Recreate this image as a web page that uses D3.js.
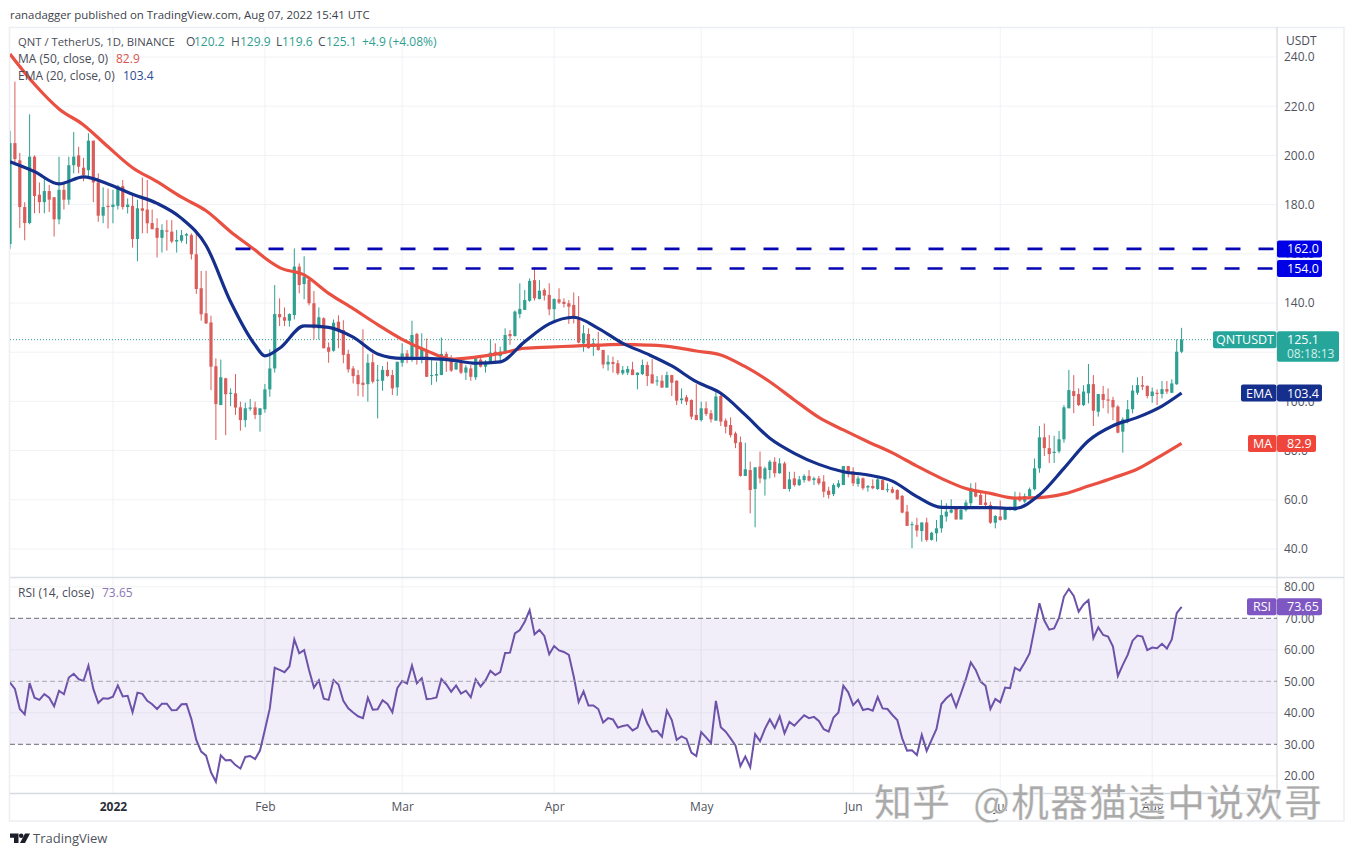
<!DOCTYPE html>
<html>
<head>
<meta charset="utf-8">
<script src="https://cdn.jsdelivr.net/npm/d3@7"></script>
<style>
  html, body { margin: 0; background: #fff; }
  svg { display: block; }
  text { font-family: "Open Sans", "Noto Sans", sans-serif; font-size: 12px; }
  .axis text { fill: #50535e; }
  .axis path, .axis line { display: none; }
  .grid line { stroke: #f0f2f6; stroke-width: 1; }
  .label { fill: #4a4d58; }
  .tag-text { fill: #fff; font-size: 12.5px; }
  .watermark { font-family: "Noto Sans CJK SC", sans-serif; font-size: 38px; font-weight: 500; fill: #aaaaaa; stroke: #fff; stroke-width: .5px; }
</style>
</head>
<body>
<svg id="chart" width="1354" height="856"></svg>
<script>
// Daily candles, Dec 11 2021 .. Aug 7 2022
const firstDay = new Date(Date.UTC(2021, 11, 11));
const opens = [
  164,205,198,179,172.5,199.5,184,181,185.5,183,
  174,186,182,196,200,195,194,206,189,175.5,
  179.5,179,179.5,187.5,179,179.5,166,178.5,178,172.5,
  170.5,166.5,169.5,169,165,165.3,167.4,167.6,159.8,146,
  135.8,132.1,114.3,98.5,109.4,103.3,103.3,97.6,92.4,97,
  97.6,94.5,96.8,104.9,113.4,135.5,134.2,132.8,135.1,154.8,
  147.7,149.5,139.9,129.7,133.8,122,120.6,132.4,129,119.3,
  113.4,110.7,107.6,107,115.9,108.6,108.4,112.8,110.7,105.7,
  115.7,119.5,118,127.4,117.5,120.9,110.4,110.5,110.7,119.3,
  117.5,113,115.7,111.7,113.4,109.8,117,114.1,116.1,120.2,
  118.4,119.5,127.4,126.6,135.5,137.2,140.9,149.3,141.6,145.3,
  143.3,137.5,141.5,140.5,139.9,139.2,134.2,123.6,127.4,122.2,
  123.3,120.9,115,116,115.5,111.4,111.7,113,110.7,111.1,
  114.8,111,108.2,108.4,105.6,110.7,108.4,100.5,101.7,100.6,
  94.5,92.4,97.2,95.2,92.2,102.2,92.2,90.4,87,83.4,
  69.7,72.1,64.4,73.5,68.3,72.1,75.5,70.8,74.8,64.4,
  68.7,66,68,69.7,68,68.7,67.4,63.7,62.3,65.3,
  66,73.7,71.5,66.4,68.7,65,65.6,64.4,68,64,
  64.3,64,61.6,55.2,49.8,49.8,47.3,50.8,43.7,46.4,
  48.4,53.2,54.8,56.5,52,55.9,58.6,64,62,58.9,
  57.9,50.7,53.2,52,55.9,55.6,61.3,59.3,61.5,64.3,
  72.8,85.4,81,79,79.7,84.6,97.2,104.2,103,98.5,
  103.3,107,95.8,103,100.8,100.6,97.9,87.7,92.7,96.8,
  103.5,106.6,106.3,102.2,103.5,103,105,103.5,107,120.2
];
const highs = [
  210,230,201,181,216.7,200,189,191,188,183,
  199.5,189,199.5,209.5,203.5,199,209,206,192.7,187,
  186.5,186,188,190,182.5,184,182,191,190,178,
  174.4,172,173.7,173.7,169.7,169.7,168.5,168.3,169.7,153,
  153.1,134.8,117.5,117,109.6,105.3,111.1,99.9,99.5,101,
  99.9,97.2,107.1,121.2,147.3,141.9,138.2,135.8,162.2,156.1,
  159,150.7,144.9,138.2,134.2,124,133.3,135,133,121,
  114.4,112.8,129.3,119.2,119.5,114.8,114.4,116.1,112.8,116.1,
  123.6,120.9,132.8,127.9,127.7,125.6,116.8,116.1,126,120.2,
  118.8,116.5,116.8,114.8,114.8,118.5,117.9,116.8,125.2,123.6,
  122.2,129.7,129,137,148,145.3,150,154.5,149.3,146,
  148,141.9,146,141.9,141.2,144.3,142.8,131,129.7,125.6,
  128.3,121,118.8,118.2,116.8,114.4,114.4,116.1,111.7,117,
  116.1,117.2,110.3,110.7,112.1,110.8,108.6,105.3,102.6,100.8,
  107,99.9,99.9,96.5,104.6,103.3,93.1,93.5,87.7,85.7,
  83.2,75.5,73.2,79.6,73.5,76.2,77.3,76.9,75.5,71.4,
  71.4,69.7,70.4,72.1,69.4,69.7,70,65.3,66.7,68,
  73.7,73.8,73.2,69.7,69.1,66,68.3,69.4,68.3,66.7,
  65.3,64.3,62,57.9,51.1,52.7,50.8,52.7,47,51.8,
  59.9,58.6,60.2,57.2,56.5,59.9,66.7,67,63.3,62.6,
  59.2,53.8,59.7,56.5,57.2,63.3,63,62.6,65,76.8,
  90,91,86.3,86,88,98.5,112.8,110.7,105.3,106.6,
  115.2,110.7,103,106.3,105.3,101.9,98.5,93.5,100.6,106.6,
  109.8,110.3,106.5,105.6,104.9,108.3,108.3,109,125.2,129.9
];
const lows = [
  162,196,170.5,165.5,172,176.5,176.5,176.5,177,167,
  172,178,180,192.7,192.7,189.5,191,181,173,172.4,
  170.3,172.4,178,178,176.4,162.5,157,168.3,168.3,170,
  158.5,160.5,161.3,164.3,160.5,164.5,164,157.7,143.7,132.8,
  131.5,104.6,84.3,98.5,86.3,98.1,94.5,88.1,89.5,96.2,
  92.8,87.7,95.4,101.9,111.7,130.6,130.6,130.4,133.3,143.9,
  141.5,139,125.2,125.2,121.6,115.7,120.2,121.6,115.5,111.7,
  107.3,102.2,101.9,99.9,107.3,93.1,104.3,110,102.6,102.3,
  114.1,115.5,116.1,115,115.5,110,106.7,108,110.7,112,
  112,112.8,111.1,108.7,108.4,108.7,113.8,111.7,115.5,116.1,
  115.5,119.5,123,126.3,133.8,137.2,140.5,141,141.5,141,
  135,133,139.6,138.2,131.5,131.7,123.6,120.2,121.5,118.5,
  120.6,113.4,112.5,111.7,110.7,110.7,110.7,110.7,104.9,110.7,
  106.3,107.3,106.4,105.6,105.6,102.2,98.5,99,98.5,92.7,
  92.4,91.8,94.1,91.4,92.2,90,87,85.3,81,69.4,
  69.7,54.5,48.8,66.7,61.7,68.7,69.1,70.5,64.4,63.3,
  65.3,65.6,67,67.4,66,66,61,60.5,61.5,64.7,
  66,69.1,65.6,65.3,64,63.3,64.3,64,64,63,
  62.6,59.9,54.5,49.4,40.3,45,43,43,43.4,43,
  46.6,51.1,54.5,52,52,55.2,57.2,61,57.9,57,
  50.2,48.4,51.5,51.8,55.6,55.6,59.2,58.6,61,63.8,
  71,77.8,75,75,78.9,83.2,97.2,95.2,98.1,98.1,
  99.2,90,93.8,97.2,95.1,92.4,87,79.2,91.1,95.1,
  102.6,104.6,101.2,99.5,98.5,101.2,103,103.5,106.7,119.6
];
const closes = [
  205,198.5,179,172.5,199.5,183.5,181,185.5,182,174,
  186,182,196,199.5,195.4,192,206,189,175.5,179,
  179,180,187.5,179,180,166,178.5,177.5,172.4,170,
  166.5,169.7,169,165,165.6,167.6,168,159.8,145.7,135.4,
  131.7,114.1,98.9,109.8,102.9,103.5,97.5,92.4,97.2,97.5,
  94.5,97.2,104.9,113.4,135.5,134.2,132.8,135.5,154.8,147.3,
  150.7,139.9,129.7,134.2,121.6,120.2,132,129,118.9,113,
  110.3,107,106.7,115.7,108,108.8,112.8,110.3,105.3,116.1,
  119.5,117.1,127,118.2,121.6,110,110.7,111.1,119.3,116.8,
  112.5,115.7,111.7,113.8,110,117.5,114.1,116.1,119.8,118.8,
  120.2,127,126.5,136.5,137.6,141.2,149,141.9,145,143,
  137.4,141.6,140.2,139.6,138.5,133.8,123.9,127.7,121.6,123.6,
  120.9,115,116.1,115.2,111.4,112.8,113.2,110.7,111.7,114.8,
  110.3,107.3,108.5,105.6,110.7,107.6,100.3,101.2,99.9,93.8,
  92.4,97.2,94.9,92.7,102,91.8,89.7,86.3,83,69.7,
  72.4,64,73.2,68.7,72.8,75.5,70.8,74.8,64.4,68.3,
  66,68.3,69.7,67.8,68.7,66.7,63.3,62,66,66.7,
  73.7,70.8,66.7,68.7,64.7,65.6,64.7,68.3,64,64.3,
  62.9,60.2,54.8,49.4,50.1,47.5,50.8,43.7,46.6,48.4,
  53.8,55.2,55.9,52,55.9,58.9,64.7,61.3,57.9,57.9,
  50.7,53.4,51.8,55.9,56.5,61,59.7,61.5,64.3,72.8,
  85.4,81,78.6,79.5,84.6,97.6,104.6,102.2,98.5,104,
  107,96.2,103,100.6,100.3,97.6,87.3,92.7,96.8,104.4,
  106.6,106,102.2,104,103,105,104,107.3,120.2,125.1
];

const rsiValues = [
  49.6,47.6,41.2,39.5,49.4,44.8,44.1,45.9,44.8,42.1,
  47,45.9,51.2,52.4,50.7,50.1,55,47.6,43.1,44.6,
  44.5,45.1,48.7,45.2,45.4,40.2,46.4,46,43.8,42.7,
  41.2,42.9,42.9,40.8,40.9,42.7,42.8,38,31.4,27.7,
  26.4,21.1,18.1,26.5,24.9,25,23.4,22.3,26,26.3,
  25.3,28,34.6,41.4,54.3,53.6,52.9,54.7,63.3,58.9,
  59.9,53.6,48,50.3,44.5,44.1,50.4,49,43.8,41.4,
  40.1,38.9,38.3,44.8,41,41.1,44,42.8,40.2,47.8,
  50.1,49.3,55,49.4,51,44.3,44.5,44.9,50.7,49,
  46.7,48.7,46.1,47,44.9,50.6,48.3,50.3,53.3,52,
  52.9,59,59.1,65.2,66.3,68.9,72.6,64.9,66.3,64.4,
  58.6,61.2,59.8,59.3,58.4,51.5,43.4,46.8,42.3,42.3,
  41.2,36.9,38.3,37.9,35.3,35.8,36.1,34.4,35.3,40.6,
  36.7,34,34.3,32.4,40.7,37.7,31.4,32.5,31.7,27.4,
  26.3,33.9,32.2,30.4,43.8,35.4,34,31.9,29.6,23.1,
  26.1,22.7,33.2,31,34.9,37.9,35.2,38.9,33.5,37.1,
  35.9,37.6,39.2,38.3,38.7,37.4,34.8,34,38.5,40.1,
  48.6,46.5,42.4,44.1,40.9,41.3,40.7,45,41.4,41.2,
  39.3,37.7,31.9,28,28.1,26.6,33,27.9,31.4,34.9,
  42.8,44.6,45.9,41.9,46.2,50.7,56,53.6,49.9,48.6,
  41.2,44.4,43.3,48,47.8,54.3,53.4,56,58.9,66.8,
  74.8,69.3,66.4,66.8,70.2,76.9,79.3,77.1,72.1,74.4,
  75.8,63.7,67.1,64.7,64.2,61,51.7,55.2,58.4,62.9,
  64.5,64.2,59.9,60.7,60.5,61.9,60.4,63.3,71.6,73.65
];

// Moving averages, read every few candles at these candle numbers
const sampleIdx = [0,5,10,15,20,25,30,35,40,45,50,52,55,60,65,70,75,80,85,90,95,100,105,110,115,120,
  125,130,135,140,145,150,155,160,165,170,175,180,185,190,195,200,205,210,215,220,225,230,235,239];
const maValues = [241.2,228.9,218.9,212.4,203.5,195,189.3,183,177.5,169,161.5,158.3,154.4,151.4,143.9,137.7,131.2,125.2,
  120.6,117.2,118,119.5,121.6,122.1,122.5,122.9,123.2,122.9,122.2,120.5,118.9,114.1,108,100.6,93.5,88.4,83.6,79.1,
  73.7,68.7,64.6,62.6,60.7,60.9,62.4,65.6,68.9,72.5,78.2,82.9];
const emaValues = [197.4,193.4,188.4,191.3,188.4,184.2,180.5,174.4,163.4,140.5,122.9,118.5,121.6,130.7,130.1,126.1,119.3,117.5,
  117.5,116.8,115.5,116.1,124.3,131.5,134.2,129.7,123.6,119.3,114.4,108,103.3,94.5,85,78.9,74.4,71.4,70.1,67.6,
  61.3,56.9,56.8,56.8,56.5,62,72.8,84,90.1,93.5,98.1,103.4];

const priceTicks = [40,60,80,100,120,140,160,180,200,220,240];
const rsiTicks = [20,30,40,50,60,70,80];
const monthTicks = [
  new Date(Date.UTC(2022,0,1)), new Date(Date.UTC(2022,1,1)), new Date(Date.UTC(2022,2,1)), new Date(Date.UTC(2022,3,1)),
  new Date(Date.UTC(2022,4,1)), new Date(Date.UTC(2022,5,1)), new Date(Date.UTC(2022,6,1)), new Date(Date.UTC(2022,7,1))
];
const monthLabels = ['2022','Feb','Mar','Apr','May','Jun','Jul','Aug'];
const resistance = [{ level: 162, from: 46 }, { level: 154, from: 66 }];

const upColor = '#2fa091', downColor = '#d95d5b';
const maColor = '#ea5042', emaColor = '#152f8c', rsiColor = '#6d52a9', lineBlue = '#0606b4';

const paneLeft = 10, axisX = 1277, frameRight = 1344;
const svg = d3.select('#chart');

const dates = d3.range(closes.length).map(i => d3.utcDay.offset(firstDay, i));
const x = d3.scaleUtc().domain([dates[0], dates[239]]).range([10, 1181.6]);
const y = d3.scaleLinear().domain([40, 240]).range([549, 57]);
const yRsi = d3.scaleLinear().domain([30, 70]).range([744.3, 618.3]);

svg.append('defs').append('clipPath').attr('id', 'pane')
    .append('rect').attr('x', paneLeft).attr('y', 27).attr('width', axisX - paneLeft).attr('height', 770);

// Outer frame and separators
const frame = svg.append('g');
frame.append('rect').attr('x', 9.5).attr('y', 27.5).attr('width', frameRight - 9.5).attr('height', 793.5)
    .attr('fill', 'none').attr('stroke', '#eceef2').attr('stroke-width', 1.5);

// Grids
const grid = svg.append('g').attr('class', 'grid');
grid.selectAll('.h').data(priceTicks).enter().append('line')
    .attr('x1', paneLeft).attr('x2', axisX).attr('y1', d => y(d)).attr('y2', d => y(d));
grid.selectAll('.hr').data(rsiTicks.filter(d => d % 20 === 0)).enter().append('line')
    .attr('x1', paneLeft).attr('x2', axisX).attr('y1', d => yRsi(d)).attr('y2', d => yRsi(d));

// RSI band
svg.append('rect').attr('x', paneLeft).attr('y', yRsi(70)).attr('width', axisX - paneLeft)
    .attr('height', yRsi(30) - yRsi(70)).attr('fill', '#7e57c2').attr('fill-opacity', 0.1);

grid.selectAll('.v').data(monthTicks).enter().append('line')
    .attr('x1', d => x(d)).attr('x2', d => x(d)).attr('y1', 28).attr('y2', 793);
svg.selectAll('.v2').data(monthTicks).enter().append('line')
    .attr('x1', d => x(d)).attr('x2', d => x(d)).attr('y1', 618).attr('y2', 744)
    .attr('stroke', '#e6e2f0').attr('stroke-width', 1);

svg.append('line').attr('x1', paneLeft).attr('x2', frameRight).attr('y1', 577.5).attr('y2', 577.5)
    .attr('stroke', '#dcdfe6').attr('stroke-width', 1.5);
svg.append('line').attr('x1', paneLeft).attr('x2', axisX).attr('y1', 793.5).attr('y2', 793.5)
    .attr('stroke', '#d6d9e0').attr('stroke-width', 1.5);
svg.append('line').attr('x1', axisX).attr('x2', axisX).attr('y1', 27).attr('y2', 821)
    .attr('stroke', '#d6d9e0').attr('stroke-width', 1.2);

// Axes, 120.0 sits entirely under the last price tag so it gets no label
svg.append('g').attr('class', 'axis').attr('transform', `translate(${axisX + 4},0)`)
    .call(d3.axisRight(y).tickValues(priceTicks.filter(d => d !== 120)).tickSize(0).tickFormat(d3.format('.1f')));
svg.append('g').attr('class', 'axis').attr('transform', `translate(${axisX + 4},0)`)
    .call(d3.axisRight(yRsi).tickValues(rsiTicks).tickSize(0).tickFormat(d3.format('.2f')));
const timeAxis = svg.append('g').attr('class', 'axis').attr('transform', 'translate(0,799)')
    .call(d3.axisBottom(x).tickValues(monthTicks).tickSize(0).tickFormat((d, i) => monthLabels[i]));
timeAxis.selectAll('text').filter((d, i) => i === 0).style('font-weight', 700).style('fill', '#2a2e39');
svg.selectAll('.axis text').style('font-size', '12px');

svg.append('text').attr('class', 'label').attr('x', 1286).attr('y', 45).text('USDT');

// Price pane
const plot = svg.append('g').attr('clip-path', 'url(#pane)');
const lastPrice = closes[closes.length - 1];
plot.append('line').attr('x1', paneLeft).attr('x2', 1213).attr('y1', y(lastPrice)).attr('y2', y(lastPrice))
    .attr('stroke', upColor).attr('stroke-dasharray', '1 2').attr('stroke-width', 1);

const candle = plot.selectAll('.candle').data(dates).enter().append('g').attr('class', 'candle');
const colorOf = i => closes[i] >= opens[i] ? upColor : downColor;
candle.append('line')
    .attr('x1', d => x(d)).attr('x2', d => x(d))
    .attr('y1', (d, i) => y(highs[i])).attr('y2', (d, i) => y(lows[i]))
    .attr('stroke', (d, i) => colorOf(i)).attr('stroke-width', 1);
candle.append('rect')
    .attr('x', d => x(d) - 1.6).attr('width', 3.2)
    .attr('y', (d, i) => y(Math.max(opens[i], closes[i])))
    .attr('height', (d, i) => Math.max(1, Math.abs(y(opens[i]) - y(closes[i]))))
    .attr('fill', (d, i) => colorOf(i));

const avgLine = d3.line().x(i => x(dates[i])).curve(d3.curveMonotoneX);
plot.append('path').attr('d', avgLine.y((i, k) => y(maValues[k]))(sampleIdx))
    .attr('fill', 'none').attr('stroke', maColor).attr('stroke-width', 3.2);
plot.append('path').attr('d', avgLine.y((i, k) => y(emaValues[k]))(sampleIdx))
    .attr('fill', 'none').attr('stroke', emaColor).attr('stroke-width', 3.2);

plot.selectAll('.res').data(resistance).enter().append('line')
    .attr('x1', d => x(dates[d.from])).attr('x2', axisX)
    .attr('y1', d => y(d.level)).attr('y2', d => y(d.level))
    .attr('stroke', lineBlue).attr('stroke-width', 2.6).attr('stroke-dasharray', '15 18');

// RSI pane
svg.selectAll('.rsiLevel').data([70, 50, 30]).enter().append('line')
    .attr('x1', paneLeft).attr('x2', axisX).attr('y1', d => yRsi(d)).attr('y2', d => yRsi(d))
    .attr('stroke', d => d === 50 ? '#a5a5ad' : '#6a6c76').attr('stroke-width', 1).attr('stroke-dasharray', '5 3');
plot.append('path')
    .attr('d', d3.line().x((d, i) => x(dates[i])).y(d => yRsi(d))(rsiValues))
    .attr('fill', 'none').attr('stroke', rsiColor).attr('stroke-width', 2);

// Value tags on the axis
function valueTag(cy, color, name, nameW, value, valueW) {
    const g = svg.append('g');
    g.append('rect').attr('x', axisX - nameW).attr('y', cy - 8.5).attr('width', nameW - 0.5).attr('height', 17).attr('rx', 2).attr('fill', color);
    g.append('rect').attr('x', axisX).attr('y', cy - 8.5).attr('width', valueW).attr('height', 17).attr('rx', 2).attr('fill', color);
    if (name) g.append('text').attr('class', 'tag-text').attr('x', axisX - nameW / 2).attr('y', cy + 4.5).attr('text-anchor', 'middle').text(name);
    g.append('text').attr('class', 'tag-text').attr('x', axisX + 10).attr('y', cy + 4.5).text(value);
    return g;
}
resistance.forEach(d => {
    svg.append('rect').attr('x', axisX).attr('y', y(d.level) - 8.5).attr('width', 45).attr('height', 17).attr('rx', 2).attr('fill', '#0000e6');
    svg.append('text').attr('class', 'tag-text').attr('x', axisX + 10).attr('y', y(d.level) + 4.5).text(d3.format('.1f')(d.level));
});
const priceTag = valueTag(y(lastPrice), '#26a69a', 'QNTUSDT', 64, '125.1', 62);
priceTag.append('rect').attr('x', axisX).attr('y', y(lastPrice) + 4).attr('width', 62).attr('height', 18).attr('rx', 2).attr('fill', '#26a69a');
priceTag.selectAll('text').raise();
priceTag.append('text').attr('class', 'tag-text').attr('x', axisX + 10).attr('y', y(lastPrice) + 18).style('fill', '#d4efeb').style('font-size', '12px').text('08:18:13');
valueTag(y(103.4), '#152f8c', 'EMA', 36, '103.4', 45);
valueTag(y(82.9), '#f0453a', 'MA', 29, '82.9', 39);
valueTag(yRsi(73.65), '#7e57c2', 'RSI', 30, '73.65', 45);

// Legends
const addText = (px, py, txt, fill) => svg.append('text').attr('x', px).attr('y', py)
    .style('fill', fill || '#4a4d58').text(txt);
const teal = '#2f9f90';
addText(10, 19, 'ranadagger published on TradingView.com, Aug 07, 2022 15:41 UTC', '#3c3f4a').style('font-size', '11.45px');
addText(18, 46, 'QNT / TetherUS, 1D, BINANCE').style('font-size', '11.3px');
addText(186, 46, 'O'); addText(194, 46, '120.2', teal);
addText(231, 46, 'H'); addText(240, 46, '129.9', teal);
addText(276, 46, 'L'); addText(282, 46, '119.6', teal);
addText(318, 46, 'C'); addText(326, 46, '125.1', teal);
addText(362, 46, '+4.9 (+4.08%)', teal);
addText(18, 63, 'MA (50, close, 0)'); addText(116, 63, '82.9', '#d9534f');
addText(18, 80, 'EMA (20, close, 0)'); addText(123, 80, '103.4', '#2a4a94');
addText(18, 597, 'RSI (14, close)'); addText(102, 597, '73.65', '#8a76b5');

// TradingView mark
const logo = svg.append('g').attr('fill', '#1c1f2a');
logo.append('path').attr('d', 'M10 833.5H18.5V843H14V837.8H10Z');
logo.append('circle').attr('cx', 21.2).attr('cy', 835.8).attr('r', 2.3);
logo.append('path').attr('d', 'M25 833.5H30L25 843H20Z');
svg.append('text').attr('x', 33).attr('y', 843).style('font-size', '13px').style('fill', '#50535e').text('TradingView');

// Watermark over everything
svg.append('text').attr('class', 'watermark').attr('x', 874).attr('y', 816).text('知乎');
svg.append('text').attr('class', 'watermark').attr('x', 973).attr('y', 816).style('letter-spacing', '1px').text('@机器猫逵中说欢哥');
</script>
</body>
</html>
